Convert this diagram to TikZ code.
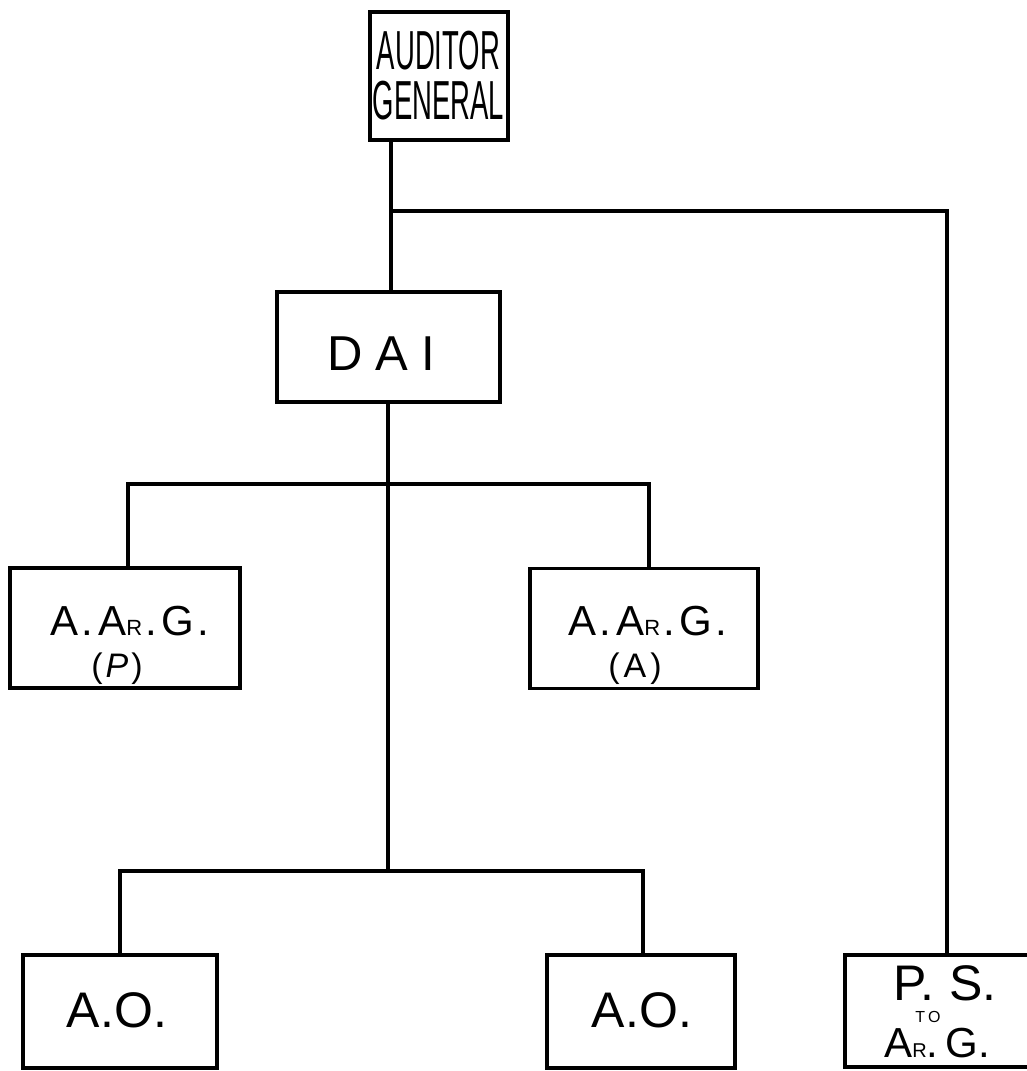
\documentclass[tikz,border=0pt]{standalone}
\usepackage{fontspec}
\usepackage{graphicx}
\setmainfont{Liberation Sans}
\tikzset{
  box/.style={draw, line width=3.2pt, inner sep=0pt, rectangle},
  conn/.style={line width=3.2pt},
  lbl/.style={inner sep=0pt, anchor=base, text=black}
}
\newcommand{\fs}[1]{\fontsize{#1}{#1}\selectfont}
\begin{document}
\begin{tikzpicture}[x=1pt,y=-1pt]
\useasboundingbox (0,0) rectangle (1027,1071);
\clip (0,0) rectangle (1027,1071);
\fill[white] (0,0) rectangle (1027,1071);

% boxes
\node[box, minimum width=138pt, minimum height=128pt] (ag) at (439,76) {};
\node[box, minimum width=223pt, minimum height=110pt] (dai) at (388.5,347) {};
\node[box, minimum width=230pt, minimum height=120pt] (aargp) at (125,628) {};
\node[box, minimum width=228pt, minimum height=120pt] (aarga) at (644,628.5) {};
\node[box, minimum width=194pt, minimum height=113pt] (aol) at (120,1011.5) {};
\node[box, minimum width=188pt, minimum height=113pt] (aor) at (641,1011.5) {};
\node[box, minimum width=200pt, minimum height=112pt] (ps) at (945,1011) {};

% labels
\node[inner sep=0pt, anchor=center, align=center, font=\fontsize{55}{50}\selectfont] (t1) at (438.5,76)
  {\scalebox{0.5}[1]{AUDITOR}\\\scalebox{0.5}[1]{GENERAL}};
\node[lbl] (t3) at (381,370) {\fs{49}D\hspace{13pt}A\hspace{13pt}I};
\node[lbl] (t4) at (130,635) {\fs{42}A\kern3pt.\kern5pt A{\fs{22}R}\kern3pt.\kern5pt G\kern3pt.};
\node[lbl] (t5) at (117,677) {\fs{34}(\kern3pt\textit{P}\kern3pt)};
\node[lbl] (t6) at (648,635) {\fs{42}A\kern3pt.\kern5pt A{\fs{22}R}\kern3pt.\kern5pt G\kern3pt.};
\node[lbl] (t7) at (635,677) {\fs{34}(\kern4pt A\kern4pt)};
\node[lbl] (t8) at (117,1027) {\fs{50}A.O.};
\node[lbl] (t9) at (642,1027) {\fs{50}A.O.};
\node[inner sep=0pt, anchor=center] (t10) at (945,1012)
  {\vbox{\offinterlineskip\halign{\hfil#\hfil\cr
    \fs{50}P.\kern15pt S.\cr
    \noalign{\kern10pt}
    \fs{16}T\kern3pt O\kern34pt\cr
    \noalign{\kern6pt}
    \fs{42}A{\fs{20}R}.\kern7pt G.\kern16pt\cr}}};

% junctions
\coordinate (j1) at (391,211);
\coordinate (j2) at (947,211);
\coordinate (j3) at (388,484);
\coordinate (j4) at (388,871);
\coordinate (l1) at (128,484);
\coordinate (r1) at (649,484);
\coordinate (l2) at (120,871);
\coordinate (r2) at (643,871);

% connectors
\draw[conn] (ag.south -| j1) -- (j1) -- (dai.north -| j1);
\draw[conn] (j1) -- (j2) -- (ps.north -| j2);
\draw[conn] (dai.south -| j3) -- (j4);
\draw[conn] (aargp.north -| l1) -- (l1) -- (r1) -- (aarga.north -| r1);
\draw[conn] (aol.north -| l2) -- (l2) -- (r2) -- (aor.north -| r2);
\end{tikzpicture}
\end{document}
